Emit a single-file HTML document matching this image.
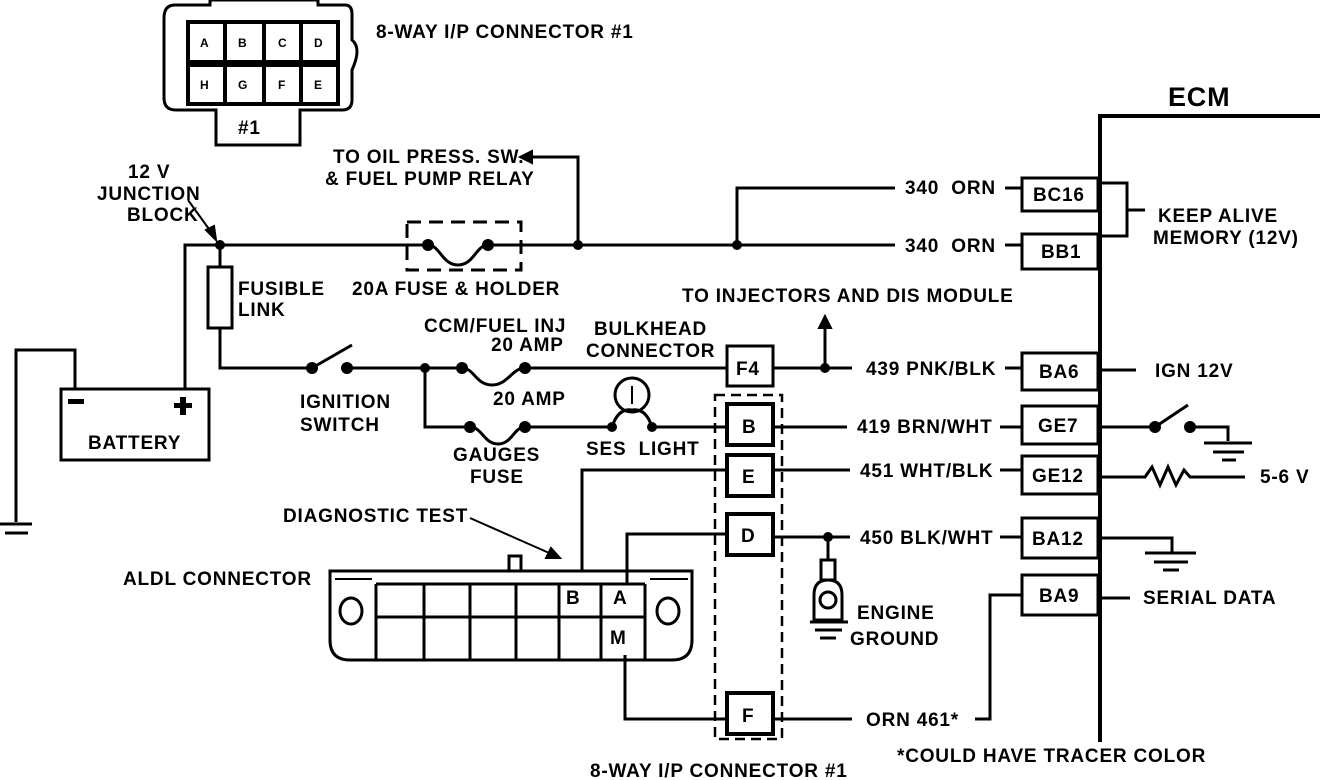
<!DOCTYPE html>
<html><head><meta charset="utf-8"><style>
html,body{margin:0;padding:0;background:#fff}
svg{display:block}
text{font-family:"Liberation Sans",sans-serif;font-weight:bold;font-size:19px;letter-spacing:0.8px;fill:#000}
</style></head><body>
<svg width="1328" height="780" viewBox="0 0 1328 780" xmlns="http://www.w3.org/2000/svg">
<g fill="none" stroke="#000" stroke-width="3">
<path d="M175 5 H210 V0 H318 V5 H345 Q352 5 352 14 V40 Q362 48 352 70 V100 Q352 110 342 110 H300 V145 H216 V110 H176 Q164 110 164 98 V18 Q164 5 175 5 Z"/>
<rect x="188" y="22" width="150" height="40" stroke-width="4"/>
<rect x="188" y="65" width="150" height="39" stroke-width="4"/>
<path d="M225 22V62M264 22V62M301 22V62M225 65V104M264 65V104M301 65V104" stroke-width="4"/>
<path d="M185 390 V245 H428 M488 245 H895"/>
<path d="M428 245 C440 245 442 265 458 265 C474 265 476 245 488 245"/>
<rect x="407" y="222" width="114" height="48" stroke-dasharray="14 8"/>
<path d="M578 245 V157 H530"/>
<path d="M737 245 V188 H895 M1005 188 H1022 M1005 245 H1022"/>
<rect x="208" y="267" width="24" height="61"/>
<path d="M220 245 V267 M220 328 V368 H312"/>
<path d="M312 368 L352 345"/>
<path d="M347 368 H462 M525 368 H727"/>
<path d="M462 368 C474 368 476 385 492 385 C508 385 512 368 525 368"/>
<path d="M425 368 V427 H470 M525 427 H612 M652 427 H727"/>
<path d="M470 427 C482 427 484 444 498 444 C512 444 514 427 525 427"/>
<circle cx="632" cy="395" r="17"/>
<path d="M632 386 V404" stroke-width="2"/>
<path d="M612 427 Q618 408 632 410 Q646 408 652 427"/>
<rect x="727" y="346" width="46" height="40"/>
<path d="M773 368 H852 M825 368 V322"/>
<path d="M1005 368 H1022"/>
<rect x="61" y="389" width="148" height="71"/>
<path d="M75 389 V350 H16 V522"/>
<path d="M0 524 H32 M5 533 H28"/>
<rect x="715" y="395" width="67" height="344" stroke-dasharray="10 6" stroke-width="2.5"/>
<rect x="727" y="404" width="46" height="41" stroke-width="4"/>
<rect x="727" y="455" width="46" height="41" stroke-width="4"/>
<rect x="727" y="514" width="46" height="41" stroke-width="4"/>
<rect x="727" y="693" width="46" height="41" stroke-width="4"/>
<path d="M773 427 H847 M773 470 H850 M773 537 H850 M773 719 H852"/>
<path d="M1000 427 H1022 M1000 470 H1022 M1000 537 H1022 M975 719 H990 V595 H1022"/>
<path d="M727 470 H582 V570 M727 534 H627 V584 M625 655 V719 H727"/>
<path d="M828 537 V560"/>
<rect x="821" y="560" width="14" height="20"/>
<path d="M814 620 V595 Q814 580 828 580 Q842 580 842 595 V620 Z"/>
<circle cx="828" cy="600" r="8"/>
<path d="M810 622 H848 M815 630 H842 M820 638 H836"/>
<path d="M330 571 H692 V640 Q692 660 672 660 H350 Q330 660 330 640 Z"/>
<path d="M335 579 H372 M650 579 H688" stroke-width="2"/>
<path d="M376 584 V660 M424 584 V660 M470 584 V660 M516 584 V660 M559 584 V660 M601 584 V660 M645 584 V660 M376 584 H645 M376 617 H645"/>
<rect x="509" y="556" width="12" height="15"/>
<ellipse cx="351" cy="611" rx="11" ry="13"/>
<ellipse cx="668" cy="611" rx="11" ry="13"/>
<path d="M1100 742 V116 H1320" stroke-width="4"/>
<rect x="1022" y="178" width="76" height="33"/>
<rect x="1022" y="234" width="76" height="35"/>
<rect x="1022" y="353" width="76" height="37"/>
<rect x="1022" y="406" width="76" height="38"/>
<rect x="1022" y="456" width="76" height="38"/>
<rect x="1022" y="518" width="76" height="40"/>
<rect x="1022" y="575" width="76" height="40"/>
<path d="M1100 183 H1127 V236 H1100 M1127 210 H1145"/>
<path d="M1100 370 H1136 M1100 598 H1130"/>
<path d="M1100 427 H1155 L1188 405 M1190 427 H1228 V441 M1204 443 H1252 M1213 452 H1244 M1222 460 H1236"/>
<path d="M1100 477 H1145 L1152 467 L1160 485 L1168 467 L1176 485 L1184 470 L1190 477 H1245"/>
<path d="M1100 538 H1172 V552 M1145 553 H1196 M1154 562 H1188 M1163 570 H1179"/>
</g>
<g fill="#000" stroke="#000" stroke-width="2">
<path d="M520 157 L532 151 L532 163 Z"/>
<path d="M825 316 L819 328 L831 328 Z"/>
<path d="M188 200 L214 236" fill="none"/>
<path d="M216 240 L206 230 L214 226 Z"/>
<path d="M470 518 L556 556" fill="none"/>
<path d="M560 558 L546 558 L551 548 Z"/>
</g>
<g fill="#000">
<circle cx="220" cy="245" r="5"/><circle cx="428" cy="245" r="6"/><circle cx="488" cy="245" r="6"/>
<circle cx="578" cy="245" r="5"/><circle cx="737" cy="245" r="5"/>
<circle cx="312" cy="368" r="6"/><circle cx="347" cy="368" r="6"/><circle cx="425" cy="368" r="5"/>
<circle cx="462" cy="368" r="6"/><circle cx="525" cy="368" r="6"/><circle cx="825" cy="368" r="5"/>
<circle cx="470" cy="427" r="6"/><circle cx="525" cy="427" r="6"/><circle cx="612" cy="427" r="5"/><circle cx="652" cy="427" r="5"/>
<circle cx="828" cy="537" r="5"/>
<circle cx="1155" cy="427" r="6"/><circle cx="1190" cy="427" r="6"/>
<rect x="68" y="399" width="16" height="5"/>
<rect x="174" y="403" width="18" height="5"/><rect x="180" y="397" width="6" height="18"/>
</g>
<g style="font-size:12px;letter-spacing:0">
<text x="200" y="47" style="font-size:12px">A</text><text x="238" y="47" style="font-size:12px">B</text><text x="278" y="47" style="font-size:12px">C</text><text x="314" y="47" style="font-size:12px">D</text>
<text x="200" y="89" style="font-size:12px">H</text><text x="238" y="89" style="font-size:12px">G</text><text x="278" y="89" style="font-size:12px">F</text><text x="314" y="89" style="font-size:12px">E</text>
</g>
<text x="238" y="134">#1</text>
<text x="376" y="38">8-WAY I/P CONNECTOR #1</text>
<text x="1168" y="106" style="font-size:27px">ECM</text>
<text x="128" y="178">12 V</text>
<text x="97" y="200">JUNCTION</text>
<text x="127" y="221">BLOCK</text>
<text x="333" y="163">TO OIL PRESS. SW.</text>
<text x="325" y="185">&amp; FUEL PUMP RELAY</text>
<text x="238" y="295">FUSIBLE</text>
<text x="238" y="316">LINK</text>
<text x="352" y="295">20A FUSE &amp; HOLDER</text>
<text x="682" y="302">TO INJECTORS AND DIS MODULE</text>
<text x="424" y="332">CCM/FUEL INJ</text>
<text x="491" y="351">20 AMP</text>
<text x="594" y="335">BULKHEAD</text>
<text x="586" y="357">CONNECTOR</text>
<text x="493" y="405">20 AMP</text>
<text x="300" y="408">IGNITION</text>
<text x="300" y="431">SWITCH</text>
<text x="88" y="449">BATTERY</text>
<text x="453" y="461">GAUGES</text>
<text x="470" y="483">FUSE</text>
<text x="586" y="455">SES&#160; LIGHT</text>
<text x="283" y="522">DIAGNOSTIC TEST</text>
<text x="123" y="585">ALDL CONNECTOR</text>
<text x="566" y="604">B</text><text x="613" y="604">A</text><text x="610" y="644">M</text>
<text x="736" y="375">F4</text>
<text x="742" y="433">B</text><text x="742" y="483">E</text><text x="741" y="542">D</text><text x="742" y="722">F</text>
<text x="905" y="194">340&#160; ORN</text>
<text x="905" y="252">340&#160; ORN</text>
<text x="866" y="375">439 PNK/BLK</text>
<text x="857" y="433">419 BRN/WHT</text>
<text x="860" y="477">451 WHT/BLK</text>
<text x="860" y="544">450 BLK/WHT</text>
<text x="866" y="726">ORN 461*</text>
<text x="857" y="619">ENGINE</text>
<text x="850" y="645">GROUND</text>
<text x="897" y="762">*COULD HAVE TRACER COLOR</text>
<text x="590" y="777">8-WAY I/P CONNECTOR #1</text>
<text x="1033" y="201">BC16</text>
<text x="1041" y="258">BB1</text>
<text x="1039" y="378">BA6</text>
<text x="1038" y="432">GE7</text>
<text x="1032" y="482">GE12</text>
<text x="1032" y="545">BA12</text>
<text x="1039" y="602">BA9</text>
<text x="1158" y="222">KEEP ALIVE</text>
<text x="1153" y="244">MEMORY (12V)</text>
<text x="1155" y="377">IGN 12V</text>
<text x="1260" y="483">5-6 V</text>
<text x="1143" y="604">SERIAL DATA</text>
</svg>
</body></html>
